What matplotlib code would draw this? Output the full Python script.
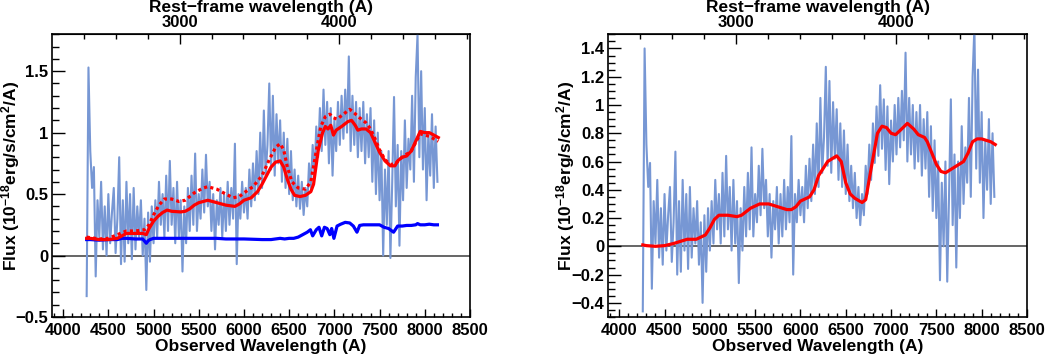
import numpy as np
import matplotlib
matplotlib.use('Agg')
import matplotlib.pyplot as plt
from matplotlib.ticker import MultipleLocator, FixedLocator, FuncFormatter

plt.rcParams['font.family'] = 'Liberation Sans'
plt.rcParams['font.weight'] = 'bold'
plt.rcParams['axes.labelweight'] = 'bold'
plt.rcParams['mathtext.fontset'] = 'custom'
plt.rcParams['mathtext.rm'] = 'Liberation Sans:bold'
plt.rcParams['mathtext.it'] = 'Liberation Sans:bold'
plt.rcParams['mathtext.bf'] = 'Liberation Sans:bold'

# observed / rest-frame wavelength ratio (1+z)
zfac = 1.763

# spectrum sampled every 20 A from 4260 to 8140
wave = np.arange(4260, 8141, 20)

# total flux (left panel)
flux_tot = [
    -0.33, 1.53, 0.85, 0.55, 0.72, -0.17, 0.45, 0.15, 0.60, 0.05,
    0.40, 0.00, 0.50, 0.10, 0.35, 0.55, 0.02, 0.30, 0.80, -0.07,
    0.45, -0.05, 0.60, 0.10, 0.50, -0.03, 0.55, 0.05, 0.40, 0.15,
    0.45, 0.00, 0.30, -0.28, 0.35, -0.05, 0.40, 0.10, 0.45, 0.15,
    0.60, 0.25, 0.50, 0.15, 0.65, 0.20, 0.77, 0.25, 0.55, 0.10,
    0.60, 0.15, 0.45, -0.13, 0.40, 0.10, 0.55, 0.20, 0.65, 0.25,
    0.83, 0.20, 0.50, 0.30, 0.70, 0.35, 0.82, 0.40, 0.60, 0.20,
    0.50, 0.05, 0.45, 0.25, 0.55, 0.15, 0.50, 0.20, 0.60, 0.25,
    0.55, 0.30, 0.91, -0.07, 0.50, 0.30, 0.60, 0.35, 0.55, 0.30,
    0.70, 0.40, 0.75, 0.45, 0.85, 0.50, 1.00, 0.55, 1.18, 0.65,
    0.90, 1.40, 0.70, 1.30, 0.65, 1.15, 0.75, 1.10, 0.60, 1.00,
    0.55, 0.95, 0.50, 0.85, 0.45, 0.70, 0.40, 0.65, 0.38, 0.60,
    0.33, 0.55, 0.40, 0.75, 0.55, 0.90, 0.65, 1.05, 0.80, 1.20,
    0.85, 1.35, 0.90, 1.25, 0.75, 1.20, 0.65, 1.10, 0.85, 1.25,
    0.90, 1.30, 0.95, 1.35, 1.00, 1.62, 0.85, 1.30, 0.90, 1.25,
    0.80, 1.20, 0.85, 1.25, 0.75, 1.15, 0.80, 1.20, 0.60, 1.10,
    0.50, 1.00, 0.45, 0.85, 0.00, 0.70, 0.25, 0.85, -0.02, 0.60,
    1.29, 0.40, 0.90, 0.08, 0.85, 0.45, 1.10, 0.55, 0.95, 0.70,
    1.30, 0.60, 1.45, 1.80, 0.80, 1.50, 0.70, 1.20, 0.45, 1.00,
    0.65, 1.15, 0.55, 1.05, 0.60,
]

# host-subtracted flux (right panel)
flux_agn = [
    -0.46, 1.40, 0.72, 0.42, 0.59, -0.30, 0.32, 0.02, 0.47, -0.08,
    0.27, -0.13, 0.37, -0.03, 0.22, 0.42, -0.11, 0.17, 0.67, -0.20,
    0.32, -0.18, 0.47, -0.03, 0.37, -0.16, 0.42, -0.08, 0.27, 0.02,
    0.32, -0.13, 0.17, -0.40, 0.22, -0.18, 0.27, -0.03, 0.32, 0.02,
    0.47, 0.12, 0.37, 0.02, 0.52, 0.07, 0.64, 0.12, 0.42, -0.03,
    0.47, 0.02, 0.32, -0.26, 0.27, -0.03, 0.42, 0.07, 0.52, 0.12,
    0.70, 0.07, 0.37, 0.17, 0.57, 0.22, 0.69, 0.27, 0.47, 0.07,
    0.37, -0.08, 0.32, 0.12, 0.42, 0.02, 0.37, 0.07, 0.47, 0.12,
    0.42, 0.17, 0.78, -0.20, 0.37, 0.17, 0.47, 0.22, 0.42, 0.17,
    0.57, 0.27, 0.62, 0.32, 0.72, 0.37, 0.87, 0.42, 1.05, 0.52,
    0.77, 1.27, 0.57, 1.17, 0.52, 1.02, 0.62, 0.97, 0.47, 0.87,
    0.42, 0.82, 0.37, 0.72, 0.32, 0.57, 0.27, 0.52, 0.20, 0.42,
    0.15, 0.37, 0.22, 0.57, 0.37, 0.72, 0.47, 0.87, 0.59, 0.99,
    0.64, 1.14, 0.69, 1.04, 0.54, 0.99, 0.44, 0.89, 0.60, 1.00,
    0.65, 1.05, 0.70, 1.10, 0.75, 1.37, 0.60, 1.05, 0.65, 1.00,
    0.55, 0.95, 0.60, 1.00, 0.50, 0.90, 0.55, 0.95, 0.35, 0.85,
    0.25, 0.75, 0.20, 0.60, -0.24, 0.45, 0.00, 0.60, -0.25, 0.36,
    1.04, 0.15, 0.65, -0.15, 0.60, 0.20, 0.85, 0.30, 0.70, 0.45,
    1.05, 0.35, 1.20, 1.55, 0.55, 1.25, 0.45, 0.95, 0.20, 0.75,
    0.40, 0.90, 0.30, 0.80, 0.35,
]

# total model (solid red, left)
mod_wl = [4260, 4300, 4400, 4500, 4600, 4650, 4700, 4800, 4880, 4920, 4950, 5000,
          5050, 5100, 5150, 5200, 5300, 5350, 5400, 5450, 5500, 5600, 5700, 5800,
          5900, 5950, 6000, 6080, 6150, 6200, 6250, 6300, 6350, 6400, 6440, 6480,
          6520, 6560, 6620, 6680, 6740, 6770, 6820, 6870, 6900, 6930, 6960, 6990,
          7020, 7080, 7150, 7190, 7230, 7260, 7300, 7350, 7400, 7450, 7500, 7560,
          7620, 7670, 7700, 7750, 7800, 7850, 7900, 7950, 8000, 8050, 8100, 8150]
mod_tot = [0.14, 0.14, 0.13, 0.13, 0.14, 0.16, 0.18, 0.18, 0.18, 0.17, 0.22, 0.28,
           0.32, 0.35, 0.37, 0.36, 0.355, 0.36, 0.38, 0.41, 0.43, 0.45, 0.43, 0.41,
           0.40, 0.42, 0.45, 0.47, 0.52, 0.58, 0.65, 0.72, 0.76, 0.77, 0.72, 0.62,
           0.54, 0.49, 0.48, 0.49, 0.52, 0.58, 0.85, 1.00, 1.05, 1.03, 1.06, 0.98,
           1.02, 1.05, 1.09, 1.10, 1.06, 1.02, 1.03, 1.03, 1.00, 0.92, 0.84, 0.77,
           0.73, 0.73, 0.77, 0.80, 0.81, 0.85, 0.93, 1.01, 1.00, 1.00, 0.98, 0.96]

# alternative model (dotted red, left)
alt_wl = [4260, 4400, 4500, 4600, 4700, 4800, 4900, 4950, 5000, 5060, 5120, 5200,
          5280, 5350, 5450, 5550, 5600, 5700, 5800, 5880, 5950, 6000, 6100, 6200,
          6280, 6350, 6400, 6440, 6480, 6530, 6600, 6680, 6740, 6800, 6850, 6900,
          6950, 6990, 7030, 7100, 7170, 7220, 7280, 7350, 7400, 7450, 7500, 7560,
          7620, 7680, 7750, 7850, 7900, 7950, 8000, 8050, 8100, 8150]
alt_tot = [0.15, 0.135, 0.14, 0.17, 0.20, 0.20, 0.21, 0.25, 0.33, 0.41, 0.46, 0.46,
           0.44, 0.45, 0.51, 0.55, 0.56, 0.54, 0.50, 0.47, 0.48, 0.51, 0.56, 0.65,
           0.78, 0.88, 0.91, 0.86, 0.72, 0.60, 0.55, 0.54, 0.60, 0.85, 1.05, 1.13,
           1.15, 1.12, 1.11, 1.15, 1.19, 1.16, 1.12, 1.08, 1.03, 0.95, 0.86, 0.78,
           0.74, 0.75, 0.80, 0.85, 0.92, 0.99, 0.98, 0.97, 0.95, 0.93]

# host galaxy template (blue, left)
host_wl = [4260, 4300, 4400, 4500, 4600, 4650, 4700, 4800, 4880, 4920, 4940, 4960,
           5000, 5100, 5200, 5400, 5600, 5700, 5800, 6000, 6200, 6300, 6400, 6450,
           6500, 6550, 6600, 6650, 6700, 6735, 6760, 6800, 6830, 6860, 6890, 6920,
           6950, 6970, 6995, 7030, 7070, 7120, 7170, 7210, 7250, 7280, 7320, 7400,
           7500, 7550, 7600, 7655, 7700, 7750, 7800, 7850, 7900, 7920, 7950, 8000,
           8050, 8100, 8140]
host = [0.13, 0.13, 0.125, 0.13, 0.13, 0.14, 0.14, 0.135, 0.135, 0.10, 0.12, 0.13,
        0.14, 0.14, 0.14, 0.14, 0.14, 0.14, 0.135, 0.135, 0.13, 0.13, 0.14, 0.135,
        0.14, 0.14, 0.15, 0.17, 0.19, 0.21, 0.16, 0.21, 0.23, 0.16, 0.23, 0.22,
        0.17, 0.22, 0.14, 0.24, 0.255, 0.27, 0.265, 0.24, 0.19, 0.245, 0.25, 0.25,
        0.25, 0.23, 0.22, 0.19, 0.24, 0.24, 0.245, 0.245, 0.25, 0.26, 0.25, 0.25,
        0.255, 0.25, 0.25]

# AGN model (red, right)
agn_wl = [4260, 4300, 4400, 4500, 4600, 4700, 4750, 4850, 4950, 5000, 5050, 5100,
          5200, 5300, 5350, 5450, 5550, 5650, 5750, 5850, 5900, 5950, 6000, 6100,
          6150, 6200, 6300, 6400, 6450, 6500, 6550, 6600, 6680, 6720, 6780, 6850,
          6900, 6950, 7000, 7050, 7100, 7180, 7250, 7300, 7370, 7400, 7450, 7500,
          7550, 7600, 7650, 7700, 7800, 7850, 7900, 7950, 8000, 8100, 8150]
agn_mod = [0.01, 0.005, 0.0, 0.005, 0.02, 0.04, 0.05, 0.05, 0.08, 0.13, 0.19, 0.22,
           0.22, 0.21, 0.22, 0.27, 0.30, 0.30, 0.28, 0.26, 0.26, 0.28, 0.32, 0.35,
           0.40, 0.50, 0.60, 0.64, 0.60, 0.45, 0.37, 0.34, 0.31, 0.33, 0.55, 0.80,
           0.85, 0.84, 0.80, 0.79, 0.82, 0.87, 0.83, 0.79, 0.77, 0.74, 0.66, 0.58,
           0.53, 0.52, 0.54, 0.56, 0.60, 0.66, 0.74, 0.76, 0.76, 0.74, 0.72]

rest_ticks = [3000, 4000]

spec_col = '#7797d4'
ylabel = r'Flux (10$^{-18}$erg/s/cm$^{2}$/A)'


def fmt(v, pos):
    return ('%g' % v).replace('-', '\u2212')


def setup(ax, ylim, ymaj, ymin):
    ax.set_xlim(3880, 8500)
    ax.set_ylim(*ylim)
    ax.axhline(0, color='0.35', lw=1.3, zorder=1)
    ax.xaxis.set_major_locator(MultipleLocator(500))
    ax.xaxis.set_minor_locator(MultipleLocator(100))
    ax.yaxis.set_major_locator(MultipleLocator(ymaj))
    ax.yaxis.set_minor_locator(MultipleLocator(ymin))
    ax.yaxis.set_major_formatter(FuncFormatter(fmt))
    ax.tick_params(which='both', direction='in', top=False, right=False,
                   labelsize=12, width=1)
    ax.tick_params(axis='x', which='major', length=6, pad=4)
    ax.tick_params(axis='x', which='minor', length=3)
    ax.tick_params(axis='y', which='major', length=9, pad=3)
    ax.tick_params(axis='y', which='minor', length=5)
    for lab in ax.get_xticklabels() + ax.get_yticklabels():
        lab.set_fontweight('bold')
    for s in ax.spines.values():
        s.set_linewidth(1.2)
    ax.set_xlabel('Observed Wavelength (A)', fontsize=12.5, labelpad=1)
    ax.set_ylabel(ylabel, fontsize=12.5)
    sec = ax.secondary_xaxis('top', functions=(lambda x: x / zfac, lambda x: x * zfac))
    sec.xaxis.set_major_locator(FixedLocator(rest_ticks))
    sec.xaxis.set_minor_locator(MultipleLocator(200))
    sec.tick_params(which='both', direction='in', labelsize=12, width=1, pad=3)
    sec.tick_params(which='major', length=7)
    sec.tick_params(which='minor', length=3.5)
    sec.set_xlabel('Rest\u2212frame wavelength (A)', fontsize=12.5, labelpad=2)


fig = plt.figure(figsize=(10.46, 3.54), dpi=100)
ax1 = fig.add_axes([0.050, 0.1045, 0.3993, 0.7986])
ax2 = fig.add_axes([0.5816, 0.1045, 0.4002, 0.7986])

ax1.plot(wave, flux_tot, color=spec_col, lw=1.5, zorder=2)
ax1.plot(host_wl, host, color='#0000ff', lw=2.3, zorder=3)
ax1.plot(alt_wl, alt_tot, color='#ff0000', lw=2.3, ls=(0, (1, 1)), zorder=4)
ax1.plot(mod_wl, mod_tot, color='#ff0000', lw=2.3, zorder=5)
setup(ax1, (-0.5, 1.8), 0.5, 0.1)

ax2.plot(wave, flux_agn, color=spec_col, lw=1.5, zorder=2)
ax2.plot(agn_wl, agn_mod, color='#ff0000', lw=2.3, zorder=5)
setup(ax2, (-0.5, 1.5), 0.2, 0.05)

ax1.yaxis.set_label_coords(-0.072, 0.5)
ax2.yaxis.set_label_coords(-0.076, 0.5)

fig.savefig('out.png', dpi=100)
